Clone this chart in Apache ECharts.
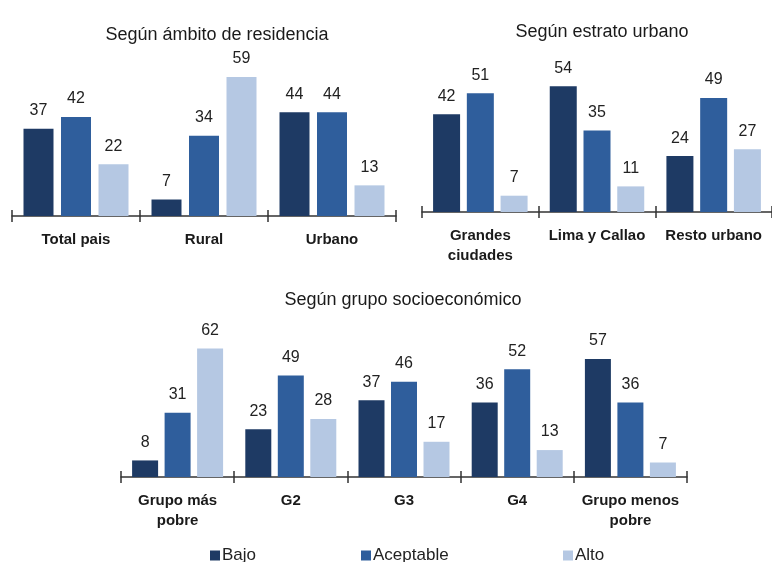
<!DOCTYPE html>
<html>
<head>
<meta charset="utf-8">
<script src="https://cdn.jsdelivr.net/npm/echarts@6/dist/echarts.min.js"></script>
<style>
  html, body { margin: 0; padding: 0; background: #fff; }
  #chart { width: 772px; height: 562px; }
</style>
</head>
<body>
<div id="chart"></div>
<script>
// datos
const seriesNames = ['Bajo', 'Aceptable', 'Alto']

const ambitoCats = ['Total pais', 'Rural', 'Urbano']
const ambitoBajo = [37, 7, 44]
const ambitoAceptable = [42, 34, 44]
const ambitoAlto = [22, 59, 13]

const estratoCats = ['Grandes\nciudades', 'Lima y Callao', 'Resto urbano']
const estratoBajo = [42, 54, 24]
const estratoAceptable = [51, 35, 49]
const estratoAlto = [7, 11, 27]

const grupoCats = ['Grupo más\npobre', 'G2', 'G3', 'G4', 'Grupo menos\npobre']
const grupoBajo = [8, 23, 37, 36, 57]
const grupoAceptable = [31, 49, 46, 52, 36]
const grupoAlto = [62, 28, 17, 13, 7]

const colors = ['#1e3a64', '#2f5e9c', '#b5c8e3']
const font = "'Liberation Sans', Arial, sans-serif"

const chartDom = document.getElementById('chart')
const myChart = echarts.init(chartDom)

// eje de categorias: uno con etiquetas y marcas hacia abajo, otro solo con marcas hacia arriba
const mainAxis = (gridIndex, data) => ({
	type: 'category',
	gridIndex: gridIndex,
	position: 'bottom',
	data: data,
	axisLine: { lineStyle: { color: '#333', width: 1.5 } },
	axisTick: { show: true, length: 6, lineStyle: { color: '#333', width: 1.5 } },
	axisLabel: {
		interval: 0,
		color: '#1a1a1a',
		fontFamily: font,
		fontWeight: 'bold',
		fontSize: 15,
		lineHeight: 20,
		margin: 14
	}
})
const tickAxis = (gridIndex, data) => ({
	type: 'category',
	gridIndex: gridIndex,
	position: 'bottom',
	data: data,
	axisLine: { show: false },
	axisTick: { show: true, inside: true, length: 6, lineStyle: { color: '#333', width: 1.5 } },
	axisLabel: { show: false }
})
const valueAxis = (gridIndex) => ({
	type: 'value',
	gridIndex: gridIndex,
	min: 0,
	max: 70,
	show: false
})

const makeSeries = (xAxisIndex, yAxisIndex, values, barWidth) =>
	values.map((vals, i) => ({
		type: 'bar',
		name: seriesNames[i],
		xAxisIndex: xAxisIndex,
		yAxisIndex: yAxisIndex,
		data: vals,
		barWidth: barWidth,
		barGap: '25%',
		itemStyle: { color: colors[i] },
		label: {
			show: true,
			position: 'top',
			distance: 10,
			color: '#222',
			fontFamily: font,
			fontSize: 16
		}
	}))

const legendItem = (name, left) => ({
	data: [name],
	left: left,
	top: 542,
	icon: 'rect',
	itemWidth: 10,
	itemHeight: 10,
	itemGap: 3,
	textStyle: { color: '#222', fontFamily: font, fontSize: 17, padding: [0, 0, 0, -3] }
})

const titleItem = (text, left, top) => ({
	text: text,
	left: left,
	top: top,
	textAlign: 'center',
	textStyle: { color: '#1a1a1a', fontFamily: font, fontWeight: 'normal', fontSize: 18 }
})

const options = {
	animation: false,
	color: colors,
	title: [
		titleItem('Según ámbito de residencia', 212, 21),
		titleItem('Según estrato urbano', 597, 18),
		titleItem('Según grupo socioeconómico', 398, 286)
	],
	legend: [
		legendItem('Bajo', 205),
		legendItem('Aceptable', 356),
		legendItem('Alto', 558)
	],
	grid: [
		{ left: 12, top: 51, width: 384, height: 165 },
		{ left: 422, top: 49, width: 354, height: 163 },
		{ left: 121, top: 332, width: 566, height: 145 }
	],
	xAxis: [
		mainAxis(0, ambitoCats), tickAxis(0, ambitoCats),
		mainAxis(1, estratoCats), tickAxis(1, estratoCats),
		mainAxis(2, grupoCats), tickAxis(2, grupoCats)
	],
	yAxis: [valueAxis(0), valueAxis(1), valueAxis(2)],
	series: [
		...makeSeries(0, 0, [ambitoBajo, ambitoAceptable, ambitoAlto], 30),
		...makeSeries(2, 1, [estratoBajo, estratoAceptable, estratoAlto], 27),
		...makeSeries(4, 2, [grupoBajo, grupoAceptable, grupoAlto], 26)
	]
}
myChart.setOption(options)
</script>
</body>
</html>
